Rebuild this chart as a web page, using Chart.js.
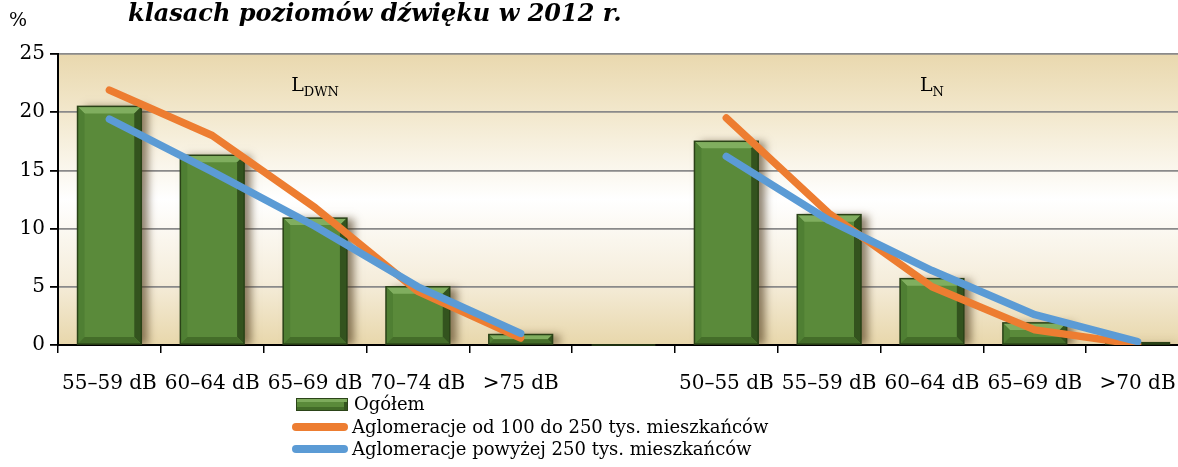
<!DOCTYPE html>
<html lang="pl">
<head>
<meta charset="utf-8">
<title>Klasy poziomów dźwięku 2012</title>
<script src="https://cdn.jsdelivr.net/npm/chart.js@4/dist/chart.umd.min.js"></script>
<style>
  html, body { margin: 0; padding: 0; background: #fff; overflow: hidden; }
  #wrap { position: relative; width: 1178px; height: 467px; overflow: hidden; }
  #chart { position: absolute; left: 0; top: 0; }
  .title { position: absolute; left: 128px; top: 1px; font: italic bold 24px/24px "DejaVu Serif", serif; color: #000; white-space: nowrap; }
  .unit { position: absolute; left: 9px; top: 8px; font: 19px "DejaVu Serif", serif; }
  #legend { position: absolute; left: 292px; top: 393px; font: 18px "DejaVu Serif", serif; line-height: 22.5px; }
  .row { display: flex; align-items: center; white-space: nowrap; }
  .sw { width: 56px; height: 8px; border-radius: 4px; margin-right: 4px; }
  .sw.bar { width: 50px; height: 11px; border-radius: 0; margin-left: 4px; margin-right: 6px;
            background: #5a8a3a; border: 1px solid #2b4418;
            box-shadow: inset 0 3px 0 #7dab5c, inset -3px 0 0 #35561f, inset 0 -3px 0 #426b28; }
</style>
</head>
<body>
<div id="wrap">
  <canvas id="chart" width="1200" height="467"></canvas>
  <div class="title">klasach poziomów dźwięku w 2012 r.</div>
  <div class="unit">%</div>
  <div id="legend"></div>
</div>
<script>
const categories = ['55–59 dB', '60–64 dB', '65–69 dB', '70–74 dB', '>75 dB', '',
                    '50–55 dB', '55–59 dB', '60–64 dB', '65–69 dB', '>70 dB'];
const ogolem   = [20.5, 16.3, 10.9, 5.0, 0.9, null, 17.5, 11.2, 5.7, 1.9, 0.2];
const aglo100  = [21.9, 18.0, 11.8, 4.6, 0.6, null, 19.5, 11.3, 5.0, 1.3, 0.05];
const aglo250  = [19.4, 14.9, 10.2, 5.0, 1.0, null, 16.2, 10.7, 6.4, 2.6, 0.3];
const yTicks = [0, 5, 10, 15, 20, 25];
const seriesNames = ['Ogółem', 'Aglomeracje od 100 do 250 tys. mieszkańców', 'Aglomeracje powyżej 250 tys. mieszkańców'];
const groupLabels = [{ main: 'L', sub: 'DWN', cat: 2 }, { main: 'L', sub: 'N', cat: 8 }];
const groupLabelY = 22.3;

const serif = '"DejaVu Serif", serif';

// plot background: tan at top and bottom, white in the middle
const bgPlugin = {
  id: 'bg',
  beforeDraw(chart) {
    const { ctx, chartArea: a } = chart;
    const g = ctx.createLinearGradient(0, a.top, 0, a.bottom);
    g.addColorStop(0, '#e9d8ae');
    g.addColorStop(0.22, '#f3e9cf');
    g.addColorStop(0.5, '#ffffff');
    g.addColorStop(0.78, '#f5eddb');
    g.addColorStop(1, '#e8d7ab');
    ctx.save();
    ctx.fillStyle = g;
    ctx.fillRect(a.left, a.top, a.right - a.left, a.bottom - a.top);
    ctx.restore();
  }
};

// bevelled bars with a soft shadow
const bevelPlugin = {
  id: 'bevel',
  beforeDatasetDraw(chart, args) {
    if (args.index !== 0) return;
    const ctx = chart.ctx;
    ctx.save();
    ctx.shadowColor = 'rgba(70,50,20,0.6)';
    ctx.shadowBlur = 8;
    ctx.shadowOffsetX = 7;
    ctx.shadowOffsetY = 1;
  },
  afterDatasetDraw(chart, args) {
    if (args.index !== 0) return;
    const ctx = chart.ctx;
    ctx.restore();
    const poly = (pts, col) => {
      ctx.beginPath();
      ctx.moveTo(pts[0][0], pts[0][1]);
      pts.slice(1).forEach(p => ctx.lineTo(p[0], p[1]));
      ctx.closePath();
      ctx.fillStyle = col;
      ctx.fill();
    };
    ctx.save();
    args.meta.data.forEach(bar => {
      const { x, y, base, width } = bar.getProps(['x', 'y', 'base', 'width'], true);
      if (y == null || isNaN(y)) return;
      const l = x - width / 2, r = x + width / 2, t = y, b = base;
      const h = b - t;
      const e = Math.min(7, h / 2, width / 2);
      poly([[l, t], [r, t], [r - e, t + e], [l + e, t + e]], '#80ae5f');
      poly([[l, t], [l + e, t + e], [l + e, b - e], [l, b]], '#4f7f33');
      poly([[r, t], [r, b], [r - e, b - e], [r - e, t + e]], '#33531e');
      poly([[l, b], [l + e, b - e], [r - e, b - e], [r, b]], '#446d29');
      ctx.strokeStyle = '#2a4217';
      ctx.lineWidth = 1.5;
      ctx.strokeRect(l, t, width, h);
    });
    ctx.restore();
  }
};

// L_DWN and L_N captions inside the plot
const groupPlugin = {
  id: 'groups',
  afterDatasetsDraw(chart) {
    const { ctx, scales: { x, y } } = chart;
    ctx.save();
    ctx.fillStyle = '#000';
    ctx.textBaseline = 'alphabetic';
    groupLabels.forEach(gl => {
      ctx.font = '19px ' + serif;
      const w1 = ctx.measureText(gl.main).width;
      ctx.font = '13px ' + serif;
      const w2 = ctx.measureText(gl.sub).width;
      const cx = x.getPixelForValue(gl.cat);
      const cy = y.getPixelForValue(groupLabelY);
      const left = cx - (w1 + w2) / 2;
      ctx.font = '19px ' + serif;
      ctx.textAlign = 'left';
      ctx.fillText(gl.main, left, cy + 6);
      ctx.font = '13px ' + serif;
      ctx.fillText(gl.sub, left + w1, cy + 11);
    });
    ctx.restore();
  }
};

new Chart(document.getElementById('chart'), {
  type: 'bar',
  data: {
    labels: categories,
    datasets: [
      { type: 'bar', label: seriesNames[0], data: ogolem, order: 3,
        backgroundColor: '#5a8a3a', borderWidth: 0,
        categoryPercentage: 1, barPercentage: 0.62 },
      { type: 'line', label: seriesNames[1], data: aglo100, order: 2,
        borderColor: '#ed7d31', borderWidth: 7.5, pointRadius: 0, tension: 0,
        borderCapStyle: 'round', borderJoinStyle: 'round', spanGaps: false },
      { type: 'line', label: seriesNames[2], data: aglo250, order: 1,
        borderColor: '#5b9bd5', borderWidth: 7.5, pointRadius: 0, tension: 0,
        borderCapStyle: 'round', borderJoinStyle: 'round', spanGaps: false }
    ]
  },
  options: {
    responsive: false,
    animation: false,
    layout: { padding: { top: 54, right: 11, bottom: 72, left: 0 } },
    plugins: { legend: { display: false }, tooltip: { enabled: false } },
    scales: {
      x: {
        grid: { display: true, drawOnChartArea: false, offset: true, tickLength: 8, color: '#000', lineWidth: 1.5 },
        border: { display: true, color: '#000', width: 2 },
        ticks: { font: { family: serif, size: 20 }, color: '#000', padding: 19, maxRotation: 0, autoSkip: false },
        afterFit: s => { s.height = 50; }
      },
      y: {
        min: yTicks[0], max: yTicks[yTicks.length - 1],
        afterBuildTicks: s => { s.ticks = yTicks.map(v => ({ value: v })); },
        grid: { color: '#8a8a8a', lineWidth: 1.8, tickLength: 8, tickColor: '#000' },
        border: { display: true, color: '#000', width: 2 },
        ticks: { font: { family: serif, size: 20 }, color: '#000', padding: 5 },
        afterFit: s => { s.width = 58; }
      }
    }
  },
  plugins: [bgPlugin, bevelPlugin, groupPlugin]
});

// legend stacked in three rows
const legend = document.getElementById('legend');
const swClass = ['sw bar', 'sw', 'sw'];
const swColor = [null, '#ed7d31', '#5b9bd5'];
seriesNames.forEach((name, i) => {
  const row = document.createElement('div');
  row.className = 'row';
  const sw = document.createElement('span');
  sw.className = swClass[i];
  if (swColor[i]) sw.style.background = swColor[i];
  const txt = document.createElement('span');
  txt.textContent = name;
  row.appendChild(sw);
  row.appendChild(txt);
  legend.appendChild(row);
});
</script>
</body>
</html>
